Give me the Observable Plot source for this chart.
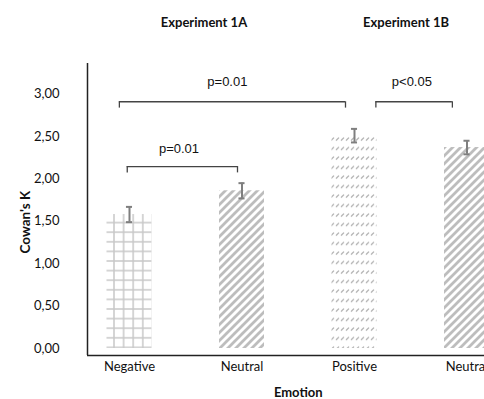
<!DOCTYPE html>
<html><head><meta charset="utf-8">
<script src="https://cdn.jsdelivr.net/npm/d3@7"></script>
<script src="https://cdn.jsdelivr.net/npm/@observablehq/plot@0.6"></script>
<style>
html,body{margin:0;padding:0;background:#fff;overflow:hidden;}
#chart{width:484px;height:399px;overflow:hidden;position:relative;}
#chart svg{max-width:none;display:block;}
</style></head><body><div id="chart"></div>
<script>
// ---- data ----
const categories = ["Negative", "Neutral", "Positive", "Neutral"];
const means = [1.58, 1.86, 2.51, 2.37];
const errors = [0.09, 0.09, 0.08, 0.08];
const patterns = ["grid", "stripes", "dashes", "stripes"];
const groupNames = ["Experiment 1A", "Experiment 1B"];
const groupX = [0.662, 2.458];
const compLabels = ["p=0.01", "p=0.01", "p<0.05"];
const compFrom = [-0.09, -0.02, 2.19];
const compTo = [1.92, 0.96, 2.87];
const compY = [2.91, 2.146, 2.91];
const compLabelX = [0.87, 0.44, 2.51];
const compLabelY = [3.15, 2.36, 3.15];
const yTicks = [0, 0.5, 1, 1.5, 2, 2.5, 3];
const xLabel = "Emotion";
const yLabel = "Cowan's K";

// ---- tables ----
const bars = categories.map((c, i) => ({i, c, mean: means[i], err: errors[i], pattern: patterns[i]}));
const comps = compLabels.map((t, k) => ({t, from: compFrom[k], to: compTo[k], y: compY[k], lx: compLabelX[k], ly: compLabelY[k]}));
const groups = groupNames.map((n, k) => ({n, x: groupX[k]}));

const xDom = [-0.3733, 3.6533];
const yDom = [-0.0825, 3.361];
const half = 0.2, cap = 0.027, leg = 0.075;
const fontTick = "Lato, 'Open Sans', sans-serif";

const chart = Plot.plot({
  width: 540, height: 399,
  marginLeft: 87, marginRight: 0, marginTop: 63, marginBottom: 44,
  style: {fontFamily: fontTick, fontSize: "13px", color: "#111", background: "white"},
  x: {domain: xDom},
  y: {domain: yDom},
  marks: [
    ...["grid", "stripes", "dashes"].map(p =>
      Plot.rectY(bars, {filter: d => d.pattern === p, x1: d => d.i - half, x2: d => d.i + half, y1: 0, y2: "mean", fill: `url(#pat-${p})`})
    ),
    Plot.ruleX(bars, {x: "i", y1: d => d.mean - d.err, y2: d => d.mean + d.err, stroke: "#7f7f7f", strokeWidth: 2}),
    Plot.ruleY(bars.flatMap(d => [{...d, v: d.mean - d.err}, {...d, v: d.mean + d.err}]), {y: "v", x1: d => d.i - cap, x2: d => d.i + cap, stroke: "#7f7f7f", strokeWidth: 2}),
    // significance brackets
    Plot.ruleY(comps, {y: "y", x1: "from", x2: "to", stroke: "#444", strokeWidth: 1.3}),
    Plot.ruleX(comps.flatMap(d => [{x: d.from, y: d.y}, {x: d.to, y: d.y}]), {x: "x", y1: "y", y2: d => d.y - leg, stroke: "#444", strokeWidth: 1.3}),
    Plot.text(comps, {x: "lx", y: "ly", text: "t", fontFamily: "'Liberation Sans', Arial, sans-serif", fontSize: 13, fill: "#111"}),
    // group titles
    Plot.text(groups, {x: "x", frameAnchor: "top", dy: -41, lineAnchor: "middle", text: "n", fontWeight: "bold", fontSize: 13, fill: "#111"}),
    // axes
    Plot.ruleX([xDom[0]], {stroke: "#222", strokeWidth: 1.5}),
    Plot.ruleY([yDom[0]], {stroke: "#222", strokeWidth: 1.5}),
    Plot.axisY({ticks: yTicks, tickSize: 0, tickPadding: 28, tickFormat: d => d.toFixed(2).replace(".", ","), label: null, fontSize: 13}),
    Plot.axisX({ticks: [0, 1, 2, 3], tickSize: 0, tickPadding: 6, tickFormat: i => categories[i], label: null, fontSize: 13}),
    Plot.text([xLabel], {x: 1.5, frameAnchor: "bottom", dy: 37, lineAnchor: "middle", textAnchor: "middle", text: d => d, fontWeight: "bold", fontSize: 13, fill: "#111"}),
    Plot.text([yLabel], {y: 1.49, frameAnchor: "left", dx: -62, rotate: -90, textAnchor: "middle", lineAnchor: "middle", text: d => d, fontWeight: "bold", fontSize: 13.5, fill: "#111"})
  ]
});

// pattern definitions
const svg = d3.select(chart);
const defs = svg.insert("defs", ":first-child");
const g = defs.append("pattern").attr("id", "pat-grid").attr("patternUnits", "userSpaceOnUse")
  .attr("width", 9.6).attr("height", 9.6).attr("x", 109.2).attr("y", 208.2);
g.append("line").attr("x1", 4.8).attr("x2", 4.8).attr("y1", 0).attr("y2", 9.6).attr("stroke", "#c8c8c8").attr("stroke-width", 1.5);
g.append("line").attr("x1", 0).attr("x2", 9.6).attr("y1", 4.8).attr("y2", 4.8).attr("stroke", "#c8c8c8").attr("stroke-width", 1.5);
const s = defs.append("pattern").attr("id", "pat-stripes").attr("patternUnits", "userSpaceOnUse")
  .attr("width", 8).attr("height", 8);
s.append("path").attr("d", "M0,8 L8,0 M-2,2 L2,-2 M6,10 L10,6").attr("stroke", "#bdbdbd").attr("stroke-width", 2.8).attr("fill", "none");
const dsh = defs.append("pattern").attr("id", "pat-dashes").attr("patternUnits", "userSpaceOnUse")
  .attr("width", 5).attr("height", 9.5).attr("y", 136);
dsh.append("path").attr("d", "M1,4.5 L4,1.5").attr("stroke", "#ababab").attr("stroke-width", 1.2).attr("fill", "none");

document.getElementById("chart").appendChild(chart);
</script>
</body></html>
